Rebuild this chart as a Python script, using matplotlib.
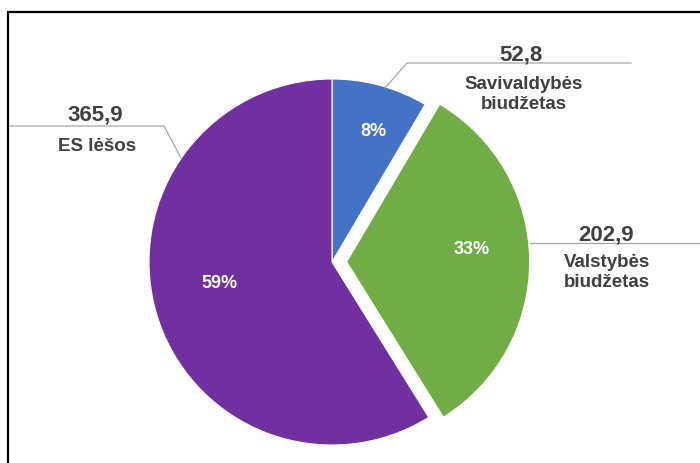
import numpy as np
import matplotlib.pyplot as plt

plt.rcParams['font.family'] = ['Liberation Sans', 'DejaVu Sans']

# Data
labels = ['Savivaldybės\nbiudžetas', 'Valstybės\nbiudžetas', 'ES lėšos']
values = [52.8, 202.9, 365.9]
value_labels = ['52,8', '202,9', '365,9']
colors = ['#4472C4', '#70AD47', '#7030A0']
explode_frac = [0, 0.08, 0]

H = 463
R = 183
fig = plt.figure(figsize=(7, 4.63), dpi=100)
ax = fig.add_axes([0, 0, 1, 1])

# pie in pixel coordinates (y flipped); explode is in data units here
wedges, texts, autotexts = ax.pie(
    values, colors=colors, explode=[e * R for e in explode_frac],
    startangle=90, counterclock=False,
    center=(332, H - 262), radius=R, frame=True,
    autopct=lambda p: f'{p:.0f}%', pctdistance=0.65,
    wedgeprops=dict(edgecolor='white', linewidth=0.8),
    textprops=dict(color='white', fontsize=13, fontweight='bold'))
ax.set_xlim(0, 700)
ax.set_ylim(0, H)
ax.set_aspect('auto')
ax.axis('off')

# percent labels where Excel put them
pct_pos = [(373, 131), (472, 249), (220, 284)]
for t, (x, y) in zip(autotexts, pct_pos):
    t.set_position((x, H - y))
    t.set_ha('center')
    t.set_va('center')

txt_col = '#404040'
line_col = '#A6A6A6'

# leader lines
ax.plot([385, 407, 631], [H - 88, H - 63, H - 63], color=line_col, lw=0.9)
ax.plot([530, 700], [H - 243, H - 243], color=line_col, lw=0.9)
ax.plot([10, 164, 181], [H - 126, H - 126, H - 158], color=line_col, lw=0.9)

# data labels: (value baseline, category last-line baseline)
lab_pos = [((521, 60), (524, 109)), ((606, 240), (607, 287)), ((95, 120), (97, 151))]
for vl, cl, (vp, cp) in zip(value_labels, labels, lab_pos):
    ax.text(vp[0], H - vp[1], vl, ha='center', va='baseline', fontsize=16,
            fontweight='bold', color=txt_col)
    ax.text(cp[0], H - cp[1], cl, ha='center', va='baseline', fontsize=13.5,
            fontweight='bold', color=txt_col, linespacing=1.2)

# chart border (cut off at right and bottom)
ax.plot([8, 8, 700], [0, H - 12, H - 12], color='black', lw=1.6,
        solid_joinstyle='miter')

fig.savefig('out.png', dpi=100)
